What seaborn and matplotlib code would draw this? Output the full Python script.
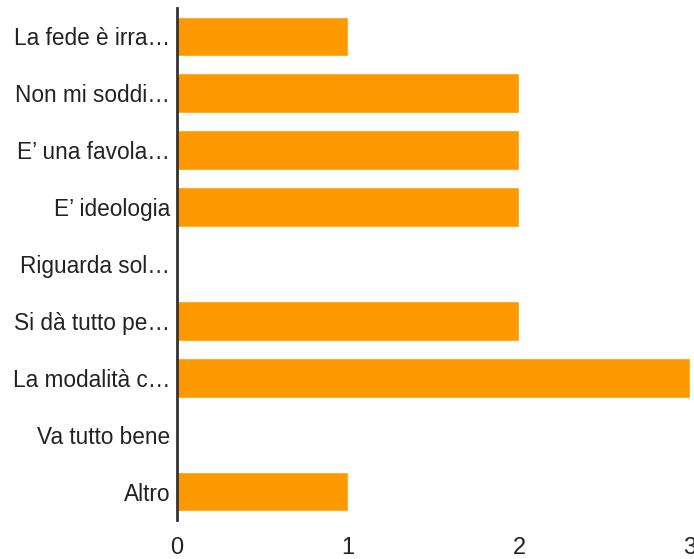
import matplotlib
matplotlib.use("Agg")
import matplotlib.pyplot as plt
import seaborn as sns
import pandas as pd

categories = ["La fede è irra…", "Non mi soddi…", "E’ una favola…", "E’ ideologia",
              "Riguarda sol…", "Si dà tutto pe…", "La modalità c…", "Va tutto bene", "Altro"]
values = [1, 2, 2, 2, 0, 2, 3, 0, 1]
xticks = [0, 1, 2, 3]

sns.set_theme(style="white")
plt.rcParams['font.family'] = ['Liberation Sans', 'DejaVu Sans']

df = pd.DataFrame({"cat": categories, "val": values})
fig = plt.figure(figsize=(6.94, 5.59), dpi=100)
ax = fig.add_axes([177/694, 1 - 520/559, (690-177)/694, 512/559])
sns.barplot(data=df, x="val", y="cat", color="#FF9900", saturation=1, width=0.7,
            orient="h", ax=ax)
ax.set_xlim(0, 3)
ax.set_ylim(8.5, -0.5)
ax.set_xticks(xticks)
ax.set_xlabel("")
ax.set_ylabel("")
for s in ["top", "right", "bottom"]:
    ax.spines[s].set_visible(False)
ax.spines["left"].set_color("#333333")
ax.spines["left"].set_linewidth(2)
ax.tick_params(axis="both", length=0, colors="#222222")
ax.tick_params(axis="y", pad=5, labelsize=16.3)
ax.tick_params(axis="x", pad=12, labelsize=17)
fig.savefig("out.png", dpi=100)
